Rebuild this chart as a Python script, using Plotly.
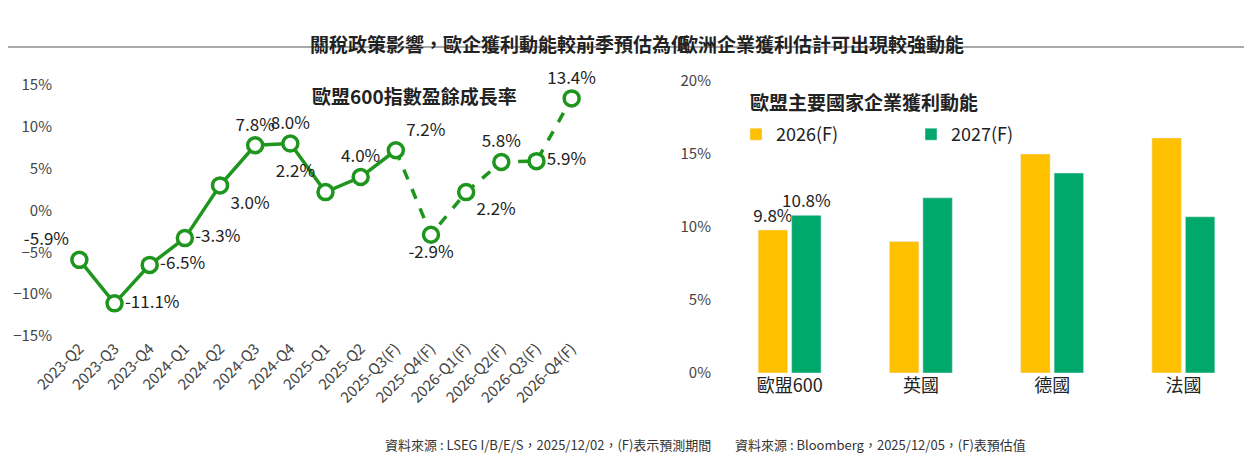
import plotly.graph_objects as go

quarters = ["2023-Q2", "2023-Q3", "2023-Q4", "2024-Q1", "2024-Q2", "2024-Q3", "2024-Q4",
            "2025-Q1", "2025-Q2", "2025-Q3(F)", "2025-Q4(F)", "2026-Q1(F)", "2026-Q2(F)",
            "2026-Q3(F)", "2026-Q4(F)"]
growth = [-5.9, -11.1, -6.5, -3.3, 3.0, 7.8, 8.0, 2.2, 4.0, 7.2, -2.9, 2.2, 5.8, 5.9, 13.4]
label_pos = ["top left", "middle right", "middle right", "middle right", "bottom right",
             "top center", "top center", "top left", "top center", "top right",
             "bottom center", "bottom right", "top center", "middle right", "top center"]

countries = ["歐盟600", "英國", "德國", "法國"]
eps_2026 = [9.8, 9.0, 15.0, 16.1]
eps_2027 = [10.8, 12.0, 13.7, 10.7]
bar_text_2026 = ["9.8%", "", "", ""]
bar_text_2027 = ["10.8%", "", "", ""]

FONT = "Noto Sans CJK TC"
GREEN_LINE = "#1E961E"
YELLOW = "#FFC000"
GREEN_BAR = "#00A86B"
W, H = 1252, 459

def px(x):
    return x / W

def py(y):
    return 1 - y / H

fig = go.Figure()

# left: line chart
fig.add_trace(go.Scatter(x=quarters[:10], y=growth[:10], mode="lines",
                         line=dict(color=GREEN_LINE, width=3.5), xaxis="x", yaxis="y",
                         showlegend=False, hoverinfo="skip"))
fig.add_trace(go.Scatter(x=quarters[9:], y=growth[9:], mode="lines",
                         line=dict(color=GREEN_LINE, width=3.5, dash="dash"), xaxis="x", yaxis="y",
                         showlegend=False, hoverinfo="skip"))
fig.add_trace(go.Scatter(x=quarters, y=growth, mode="markers+text",
                         marker=dict(size=15, color="white", line=dict(color=GREEN_LINE, width=3.5)),
                         text=[f"{v:.1f}%" for v in growth], textposition=label_pos,
                         textfont=dict(size=17, color="#222"), xaxis="x", yaxis="y",
                         showlegend=False, cliponaxis=False))

# right: bars
fig.add_trace(go.Bar(x=countries, y=eps_2026, name="2026(F)", marker_color=YELLOW,
                     text=bar_text_2026, textposition="outside", constraintext="none",
                     textfont=dict(size=17, color="#222"),
                     xaxis="x2", yaxis="y2", cliponaxis=False))
fig.add_trace(go.Bar(x=countries, y=eps_2027, name="2027(F)", marker_color=GREEN_BAR,
                     text=bar_text_2027, textposition="outside", constraintext="none",
                     textfont=dict(size=17, color="#222"),
                     xaxis="x2", yaxis="y2", cliponaxis=False))

fig.update_layout(
    width=W, height=H, margin=dict(l=0, r=0, t=0, b=0, autoexpand=False),
    paper_bgcolor="white", plot_bgcolor="white",
    font=dict(family=FONT, size=15, color="#333"),
    barmode="group", bargap=0.49, bargroupgap=0.12, uniformtext=dict(mode=False),
    xaxis=dict(domain=[px(45), px(590)], range=[-0.75, 14.75], tickangle=-45, automargin=False,
               showline=False, showgrid=False, ticks="", tickfont=dict(size=15, color="#444")),
    yaxis=dict(domain=[py(328), py(77)], range=[-15, 15], dtick=5, ticksuffix="%", automargin=False,
               showgrid=False, zeroline=False, tickfont=dict(size=15, color="#444"), anchor="x"),
    xaxis2=dict(domain=[px(716), px(1241)], range=[-0.5, 3.5], showgrid=False, ticks="",
                automargin=False, tickfont=dict(size=18, color="#222"), anchor="y2"),
    yaxis2=dict(domain=[py(365), py(73)], range=[0, 20], dtick=5, ticksuffix="%", automargin=False,
                showgrid=False, zeroline=False, tickfont=dict(size=15, color="#444"),
                anchor="x2", ticklabelstandoff=12),
    legend=dict(orientation="h", x=px(728), y=py(108), xanchor="left", yanchor="top",
                font=dict(size=18, color="#222"), entrywidth=130),
)

fig.add_annotation(x=px(300), y=py(20), xref="paper", yref="paper", showarrow=False,
                   text="<b>關稅政策影響，歐企獲利動能較前季預估為低</b>", font=dict(size=19, color="#222"))
fig.add_annotation(x=px(958), y=py(20), xref="paper", yref="paper", showarrow=False,
                   text="<b>歐洲企業獲利估計可出現較強動能</b>", font=dict(size=19, color="#222"))
fig.add_shape(type="line", xref="paper", yref="paper", x0=0, x1=px(593), y0=py(39), y1=py(39),
              line=dict(color="#555", width=1))
fig.add_shape(type="line", xref="paper", yref="paper", x0=px(655), x1=1, y0=py(39), y1=py(39),
              line=dict(color="#555", width=1))
fig.add_annotation(x=px(302), y=py(72), xref="paper", yref="paper", showarrow=False,
                   text="<b>歐盟600指數盈餘成長率</b>", font=dict(size=19, color="#222"))
fig.add_annotation(x=px(972), y=py(78), xref="paper", yref="paper", showarrow=False,
                   text="<b>歐盟主要國家企業獲利動能</b>", font=dict(size=19, color="#222"))
fig.add_annotation(x=px(375), y=py(448), xref="paper", yref="paper", showarrow=False,
                   text="資料來源 : LSEG I/B/E/S，2025/12/02，(F)表示預測期間",
                   font=dict(size=13, color="#333"))
fig.add_annotation(x=px(1020), y=py(448), xref="paper", yref="paper", showarrow=False,
                   text="資料來源 : Bloomberg，2025/12/05，(F)表預估值",
                   font=dict(size=13, color="#333"))

fig.write_html("out.html")
